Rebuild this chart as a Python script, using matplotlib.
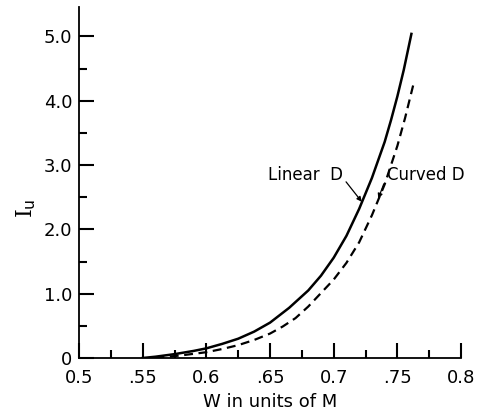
import numpy as np
import matplotlib
matplotlib.use("Agg")
from matplotlib import pyplot as plt

plt.rcParams['mathtext.fontset'] = 'dejavuserif'

# Werte
w_linear = [0.55, 0.56, 0.575, 0.59, 0.60, 0.6125, 0.625, 0.6375, 0.65, 0.665,
            0.68, 0.69, 0.70, 0.71, 0.72, 0.73, 0.74, 0.745, 0.75, 0.755, 0.761]
iu_linear = [0.0, 0.02, 0.06, 0.11, 0.15, 0.22, 0.30, 0.41, 0.55, 0.78,
             1.05, 1.28, 1.56, 1.90, 2.32, 2.80, 3.36, 3.70, 4.07, 4.48, 5.04]

w_curved = [0.56, 0.58, 0.60, 0.6125, 0.625, 0.6375, 0.65, 0.66, 0.67, 0.68,
            0.69, 0.70, 0.71, 0.72, 0.73, 0.74, 0.75, 0.756, 0.7625]
iu_curved = [0.0, 0.04, 0.09, 0.14, 0.20, 0.28, 0.38, 0.49, 0.62, 0.80,
             1.01, 1.22, 1.48, 1.80, 2.22, 2.70, 3.30, 3.73, 4.25]

x_ticks = [0.5, 0.55, 0.6, 0.65, 0.7, 0.75, 0.8]
x_labels = ['0.5', '.55', '0.6', '.65', '0.7', '.75', '0.8']
y_ticks = [0, 1, 2, 3, 4, 5]
y_labels = ['0', '1.0', '2.0', '3.0', '4.0', '5.0']

fig = plt.figure(figsize=(4.83, 4.17), dpi=100)
ax = fig.add_axes([0.1636, 0.1415, 0.791, 0.842])

ax.plot(w_linear, iu_linear, 'k-', lw=1.8)
ax.plot(w_curved, iu_curved, 'k--', lw=1.6, dashes=(4, 2.5))

ax.set_xlim(0.5, 0.8)
ax.set_ylim(0, 5.46)
ax.spines['top'].set_visible(False)
ax.spines['right'].set_visible(False)
ax.spines['left'].set_linewidth(1.3)
ax.spines['bottom'].set_linewidth(1.3)

ax.set_xticks(x_ticks)
ax.set_xticklabels(x_labels)
ax.set_xticks(np.arange(0.525, 0.8, 0.05), minor=True)
ax.set_yticks(y_ticks)
ax.set_yticklabels(y_labels)
ax.set_yticks(np.arange(0.5, 5.5, 1.0), minor=True)
ax.tick_params(which='major', direction='in', length=11, width=1.5, labelsize=13, color='k')
ax.tick_params(which='minor', direction='in', length=6, width=1.5, color='k')
ax.tick_params(axis='x', which='major', pad=8)
ax.tick_params(axis='y', which='major', pad=5)

ax.set_xlabel('W in units of M', fontsize=13, labelpad=4)
fig.text(0.055, 0.50, r'$\mathrm{I}_{\mathsf{u}}$', rotation=90, fontsize=16, ha='center', va='center')

# Beschriftung der Kurven mit Pfeilen
ax.annotate('Linear  D', xy=(0.722, 2.43), xytext=(0.7075, 2.85),
            fontsize=12, ha='right', va='center',
            arrowprops=dict(arrowstyle='-|>', color='k', lw=0.9, mutation_scale=7,
                            shrinkA=0, shrinkB=0, relpos=(1.0, 0.3)))
ax.annotate('Curved D', xy=(0.735, 2.48), xytext=(0.7415, 2.85),
            fontsize=12, ha='left', va='center',
            arrowprops=dict(arrowstyle='-|>', color='k', lw=0.9, mutation_scale=7,
                            shrinkA=0, shrinkB=0, relpos=(0.0, 0.4)))

fig.savefig('out.png', dpi=100)
